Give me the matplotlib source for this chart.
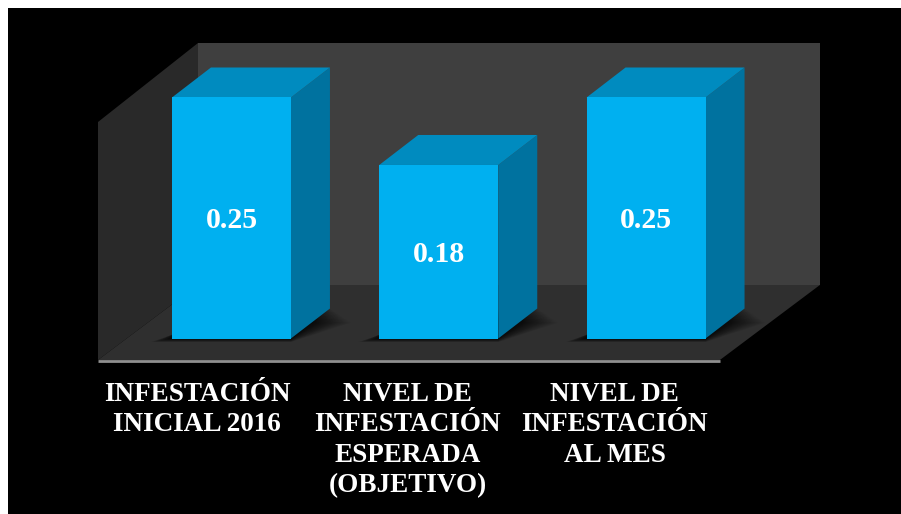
import matplotlib.pyplot as plt
from matplotlib.patches import Polygon, Rectangle

# Define the data
categories = ['INFESTACIÓN\nINICIAL 2016',
              'NIVEL DE\nINFESTACIÓN\nESPERADA\n(OBJETIVO)',
              'NIVEL DE\nINFESTACIÓN\nAL MES']
values = [0.25, 0.18, 0.25]
value_labels = ['0.25', '0.18', '0.25']

W, H = 901, 514
fig = plt.figure(figsize=(W / 100, H / 100), dpi=100, facecolor='white')
fig.patches.append(Rectangle((8 / W, 0), 1 - 8 / W, 1 - 8 / H, transform=fig.transFigure,
                             facecolor='black', edgecolor='none', figure=fig, zorder=-1))

# axes box is the outer box of the 3D frame
left, right, top, bottom = 98, 820, 43, 360
ax = fig.add_axes([left / W, 1 - bottom / H, (right - left) / W, (bottom - top) / H])
ax.patch.set_alpha(0)
for s in ax.spines.values():
    s.set_visible(False)

px_x = 207.3          # pixels per category
px_y = 964.0          # pixels per unit of value
floor_drop = 21.5 / px_y   # front edge of the floor is under the bar base
ax.set_xlim(-0.5, -0.5 + (right - left) / px_x)
ax.set_ylim(-floor_drop, -floor_drop + (bottom - top) / px_y)

# depth of the frame and of the bars
frame_dx, frame_dy = 100 / px_x, 75 / px_y
wall_top = ax.get_ylim()[1]
front_right = 2.5
bar_w = 119 / px_x
bar_shift = 29.8 / px_x
bar_dx, bar_dy = 39 / px_x, 30 / px_y

y0 = -floor_drop
back = y0 + frame_dy
# back wall, left wall, floor
ax.add_patch(Polygon([(-0.5 + frame_dx, back), (front_right + frame_dx, back),
                      (front_right + frame_dx, wall_top), (-0.5 + frame_dx, wall_top)],
                     facecolor='#3f3f3f', edgecolor='none'))
ax.add_patch(Polygon([(-0.5, y0), (-0.5 + frame_dx, back), (-0.5 + frame_dx, wall_top),
                      (-0.5, wall_top - 79 / px_y)], facecolor='#292929', edgecolor='none'))
ax.add_patch(Polygon([(-0.5, y0), (front_right, y0), (front_right + frame_dx, back),
                      (-0.5 + frame_dx, back)], facecolor='#2f2f2f', edgecolor='none'))
ax.plot([-0.5, front_right], [y0 - 0.5 / px_y] * 2, color='#8f8f8f', lw=2.0,
        solid_capstyle='butt', clip_on=False)

# bars
for i, v in enumerate(values):
    x0 = i + bar_shift - bar_w / 2
    x1 = x0 + bar_w
    # soft shadow on the floor, many faint layers
    for k in range(1, 17):
        gx = k * 1.3 / px_x
        gy = k * 0.22 / px_y
        ax.add_patch(Polygon([(x0 - gx, -gy), (x1, -gy), (x1 + bar_dx + gx, bar_dy - 4 * gy),
                              (x0 + bar_dx, bar_dy - 4 * gy)],
                             facecolor='black', alpha=0.07, edgecolor='none'))
    ax.add_patch(Polygon([(x1, 0), (x1 + bar_dx, bar_dy), (x1 + bar_dx, v + bar_dy), (x1, v)],
                         facecolor='#00729f', edgecolor='none'))
    ax.add_patch(Polygon([(x0, v), (x1, v), (x1 + bar_dx, v + bar_dy), (x0 + bar_dx, v + bar_dy)],
                         facecolor='#008bbf', edgecolor='none'))
    ax.add_patch(Rectangle((x0, 0), bar_w, v, facecolor='#00b0f0', edgecolor='none'))
    ax.text(i + bar_shift, v / 2 - 3 / px_y, value_labels[i], color='white', ha='center',
            va='center', family='Liberation Serif', weight='bold', fontsize=21.5)

ax.set_yticks([])
# labels sit a little left of the category centres
ax.set_xticks([i - s / px_x for i, s in enumerate([4.5, 1.5, 1.5])])
ax.set_xticklabels(categories, family='Liberation Serif', weight='bold', fontsize=19.5,
                   color='white', linespacing=1.29)
ax.tick_params(axis='x', length=0, pad=15.8)

plt.savefig('out.png', dpi=100, facecolor=fig.get_facecolor())
